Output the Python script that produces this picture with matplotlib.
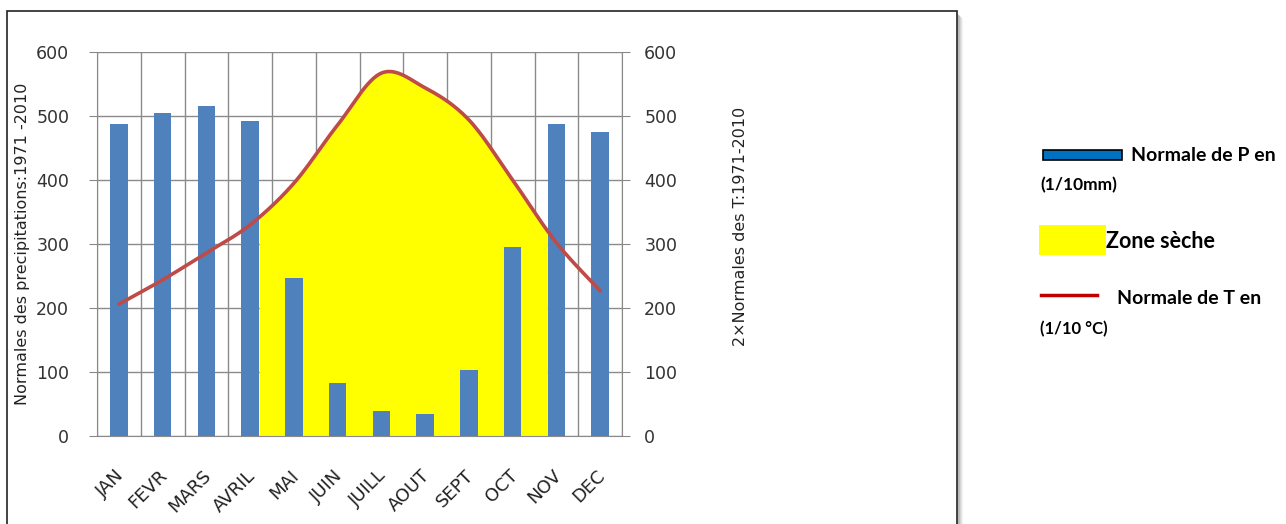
import numpy as np
import matplotlib
matplotlib.use("Agg")
import matplotlib.pyplot as plt
import matplotlib.transforms as mtransforms
from matplotlib.patches import Rectangle
from matplotlib.lines import Line2D

# donnees
mois = ["JAN", "FEVR", "MARS", "AVRIL", "MAI", "JUIN", "JUILL", "AOUT", "SEPT", "OCT", "NOV", "DEC"]
precip = [488, 505, 515, 492, 247, 83, 39, 34, 103, 295, 488, 475]
temp2x = [206, 244, 286, 330, 395, 486, 567, 544, 494, 400, 302, 227]
sec_debut, sec_fin = 3, 10  # mois qui bornent la zone seche


def courbe_lisse(x, y, n=30):
    # courbe de Bezier facon Excel (lissage)
    x = np.asarray(x, float)
    y = np.asarray(y, float)
    px = np.concatenate([[x[0]], x, [x[-1]]])
    py = np.concatenate([[y[0]], y, [y[-1]]])
    xs, ys = [], []
    t = np.linspace(0, 1, n)
    for i in range(len(x) - 1):
        p0 = np.array([px[i + 1], py[i + 1]])
        p3 = np.array([px[i + 2], py[i + 2]])
        p1 = p0 + (p3 - np.array([px[i], py[i]])) / 6
        p2 = p3 - (np.array([px[i + 3], py[i + 3]]) - p0) / 6
        b = ((1 - t) ** 3)[:, None] * p0 + (3 * (1 - t) ** 2 * t)[:, None] * p1 \
            + (3 * (1 - t) * t ** 2)[:, None] * p2 + (t ** 3)[:, None] * p3
        xs.append(b[:, 0])
        ys.append(b[:, 1])
    return np.concatenate(xs), np.concatenate(ys)


fig = plt.figure(figsize=(12.86, 5.24), dpi=100)
ax = fig.add_axes([97 / 1286, 88 / 524, 525 / 1286, 384 / 524])

x = np.arange(len(mois))
xs, ys = courbe_lisse(x, temp2x)

ax.set_xlim(-0.5, 11.5)
ax.set_ylim(0, 600)
ax.set_axisbelow(True)

# zone seche
m = (xs >= sec_debut + 0.2) & (xs <= sec_fin - 0.2)
ax.fill_between(xs[m], 0, ys[m], color="#FFFF00", lw=0, zorder=1.5)

ax.bar(x, precip, width=0.4, color="#4F81BD", zorder=2)

ax.set_yticks(range(0, 601, 100))
ax.set_xticks(x)
ax.set_xticklabels(mois, rotation=45, ha="right", rotation_mode="anchor", fontsize=13, color="#222222")
ax.set_xticks(np.arange(-0.5, 12, 1), minor=True)
ax.tick_params(axis="x", which="both", length=0, pad=22)
decal = mtransforms.ScaledTranslation(-4 / 100, 0, fig.dpi_scale_trans)
for lab in ax.get_xticklabels():
    lab.set_transform(lab.get_transform() + decal)
ax.tick_params(axis="y", length=6, color="#888888", labelsize=12.5, labelcolor="#333333", pad=14)
ax.grid(True, axis="y", color="#8a8a8a", lw=1)
ax.grid(True, axis="x", which="minor", color="#8a8a8a", lw=1)
for s in ax.spines.values():
    s.set_color("#8a8a8a")
ax.spines["top"].set_visible(False)
ax.set_ylabel("Normales des precipitations:1971 -2010", fontsize=11.5, color="#222222")
ax.yaxis.set_label_coords(-0.128, 0.5)

ax2 = ax.twinx()
ax2.set_ylim(0, 600)
ax2.set_yticks(range(0, 601, 100))
ax2.plot(xs, ys, color="#BE4B48", lw=2.6, solid_capstyle="round")
ax2.tick_params(axis="y", length=6, color="#888888", labelsize=12.5, labelcolor="#333333", pad=10)
for s in ax2.spines.values():
    s.set_visible(False)
ax2.set_ylabel("2\u00d7Normales des T:1971-2010", fontsize=11.5, color="#222222")
ax2.yaxis.set_label_coords(1.212, 0.545)

# cadre avec ombre
for k, a in enumerate([0.25, 0.18, 0.12, 0.07, 0.03]):
    fig.add_artist(Line2D([958 + k, 958 + k], [-5, 509 - k], transform=None,
                          color="black", alpha=a, lw=1))
fig.add_artist(Rectangle((7, -5), 950, 518, transform=None, fill=False,
                         edgecolor="#222222", lw=1.2))

# legende
f = dict(family="Lato", fontweight="bold", color="black")
fig.add_artist(Rectangle((1043, 524 - 160), 79, 10, transform=None,
                         facecolor="#0070C0", edgecolor="black", lw=1.2))
fig.text(1131 / 1286, 1 - 156 / 524, "Normale de P en", fontsize=14, va="center", **f)
fig.text(1040 / 1286, 1 - 185 / 524, "(1/10mm)", fontsize=12.5, va="center", **f)
fig.add_artist(Rectangle((1039, 524 - 255), 67, 30, transform=None,
                         facecolor="#FFFF00", edgecolor="none"))
fig.text(1106 / 1286, 1 - 241 / 524, "Zone s\u00e8che", fontsize=15.5, va="center", **f)
fig.add_artist(Line2D([1041, 1097], [524 - 295, 524 - 295], transform=None,
                      color="#C00000", lw=2.5))
fig.text(1117 / 1286, 1 - 299 / 524, "Normale de T en", fontsize=14, va="center", **f)
fig.text(1040 / 1286, 1 - 329 / 524, "(1/10 \u00b0C)", fontsize=12, va="center", **f)

fig.savefig("out.png", dpi=100)
